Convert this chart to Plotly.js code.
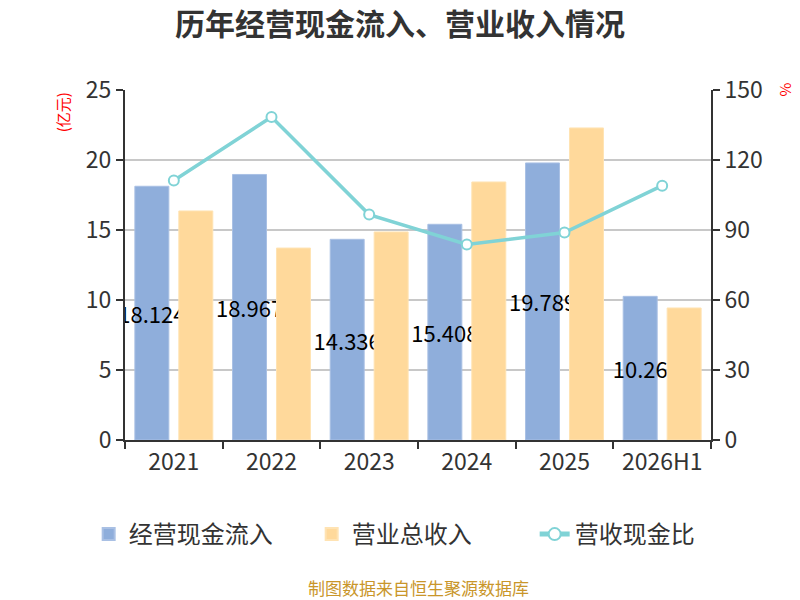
<!DOCTYPE html>
<html>
<head>
<meta charset="utf-8">
<script src="https://cdn.plot.ly/plotly-3.0.1.min.js"></script>
<style>
  html, body { margin: 0; padding: 0; background: #fff; }
  #chart { width: 800px; height: 600px; }
</style>
</head>
<body>
<div id="chart"></div>
<script>
const years = ['2021', '2022', '2023', '2024', '2025', '2026H1'];
const cashInflow = [18.124, 18.967, 14.336, 15.408, 19.789, 10.262];
const cashLabels = ['18.124', '18.967', '14.336', '15.408', '19.789', '10.26'];
const revenue = [16.36, 13.71, 14.86, 18.43, 22.29, 9.43];
const ratio = [111.2, 138.4, 96.6, 83.8, 88.9, 109.0];

const FONT = '"Noto Sans CJK SC", "Noto Sans", sans-serif';

const traceCash = {
  type: 'bar',
  name: '经营现金流入',
  x: years,
  y: cashInflow,
  text: cashLabels,
  textposition: 'inside',
  insidetextanchor: 'middle',
  constraintext: 'none',
  textangle: 0,
  textfont: { family: FONT, size: 22, color: '#000' },
  marker: { color: '#8faedb', line: { color: '#a9c0e4', width: 1 } },
  hoverinfo: 'none'
};

const traceRevenue = {
  type: 'bar',
  name: '营业总收入',
  x: years,
  y: revenue,
  marker: { color: '#ffd99b', line: { color: '#ffe3b3', width: 1 } },
  hoverinfo: 'none'
};

const traceRatio = {
  type: 'scatter',
  mode: 'lines+markers',
  name: '营收现金比',
  x: years,
  y: ratio,
  yaxis: 'y2',
  line: { color: '#80d3d6', width: 3.5 },
  marker: { size: 10, color: '#fff', line: { color: '#80d3d6', width: 2 } },
  hoverinfo: 'none'
};

const tickFont = { family: FONT, size: 23, color: '#333' };

const layout = {
  width: 800,
  height: 600,
  margin: { l: 125, r: 89, t: 90, b: 160 },
  paper_bgcolor: '#fff',
  plot_bgcolor: '#fff',
  font: { family: FONT, color: '#333' },
  title: {
    text: '<b>历年经营现金流入、营业收入情况</b>',
    font: { family: FONT, size: 30, color: '#333' },
    x: 0.5,
    xanchor: 'center',
    y: 0.96,
    yanchor: 'middle'
  },
  barmode: 'group',
  bargap: 0.1,
  bargroupgap: 0.227,
  showlegend: true,
  legend: {
    orientation: 'h',
    x: -0.062,
    xanchor: 'left',
    y: -0.27,
    yanchor: 'middle',
    font: { family: FONT, size: 24, color: '#333' },
    itemsizing: 'constant',
    entrywidth: 178,
    entrywidthmode: 'pixels',
    traceorder: 'normal'
  },
  xaxis: {
    type: 'category',
    showline: true,
    linecolor: '#333',
    linewidth: 2,
    ticks: 'outside',
    tickson: 'boundaries',
    ticklen: 7,
    tickwidth: 2,
    tickcolor: '#333',
    tickfont: tickFont,
    showgrid: false,
    fixedrange: true
  },
  yaxis: {
    range: [0, 25],
    dtick: 5,
    showline: true,
    linecolor: '#333',
    linewidth: 2,
    ticks: 'outside',
    ticklen: 7,
    tickwidth: 2,
    tickcolor: '#333',
    tickfont: tickFont,
    gridcolor: '#c8c8c8',
    gridwidth: 1.5,
    zeroline: false,
    fixedrange: true
  },
  yaxis2: {
    overlaying: 'y',
    side: 'right',
    range: [0, 150],
    dtick: 30,
    showline: true,
    linecolor: '#333',
    linewidth: 2,
    ticks: 'outside',
    ticklen: 7,
    tickwidth: 2,
    tickcolor: '#333',
    tickfont: tickFont,
    showgrid: false,
    zeroline: false,
    fixedrange: true
  },
  annotations: [
    {
      text: '(亿元)',
      xref: 'paper', yref: 'paper',
      x: -0.107, y: 1.0,
      xanchor: 'center', yanchor: 'top',
      textangle: -90,
      showarrow: false,
      font: { family: FONT, size: 15, color: '#ff0000' }
    },
    {
      text: '%',
      xref: 'paper', yref: 'paper',
      x: 1.13, y: 1.0,
      xanchor: 'center', yanchor: 'middle',
      textangle: 90,
      showarrow: false,
      font: { family: FONT, size: 15, color: '#ff0000' }
    },
    {
      text: '制图数据来自恒生聚源数据库',
      xref: 'paper', yref: 'paper',
      x: 0.5, y: -0.42,
      xanchor: 'center', yanchor: 'middle',
      showarrow: false,
      font: { family: FONT, size: 17, color: '#c9962a' }
    }
  ]
};

Plotly.newPlot('chart', [traceCash, traceRevenue, traceRatio], layout, {
  displayModeBar: false,
  staticPlot: true
});
</script>
</body>
</html>
